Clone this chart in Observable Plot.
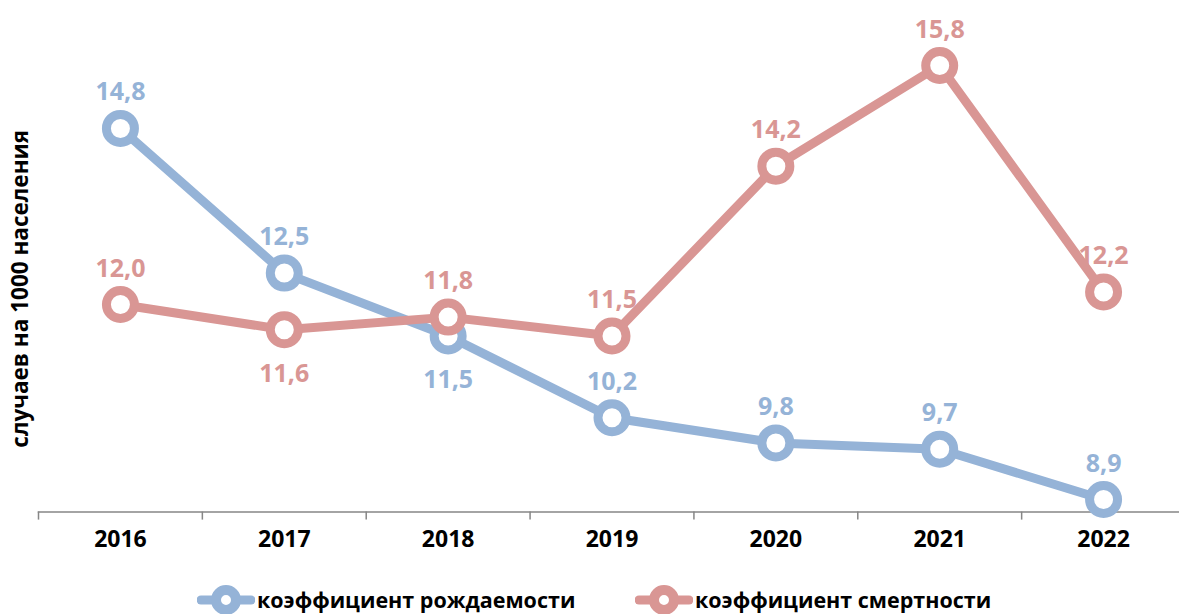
<!DOCTYPE html>
<html>
<head>
<meta charset="utf-8">
<script src="https://cdn.jsdelivr.net/npm/d3@7"></script>
<script src="https://cdn.jsdelivr.net/npm/@observablehq/plot@0.6"></script>
<style>
  html, body { margin: 0; padding: 0; background: #fff; overflow: hidden; }
  #wrap { width: 1179px; height: 614px; position: relative; font-family: "Open Sans", sans-serif; }
  #legend { position: relative; height: 30px; width: 1179px; }
  .item { position: absolute; top: 0; height: 30px; display: flex; align-items: center; font-weight: 700; font-size: 21.5px; line-height: 26px; color: #000; white-space: nowrap; }
  .item svg { display: block; margin-right: 2px; }
</style>
</head>
<body>
<div id="wrap"></div>
<script>
const years = [2016, 2017, 2018, 2019, 2020, 2021, 2022];
const birthRate = [14.8, 12.5, 11.5, 10.2, 9.8, 9.7, 8.9];
const deathRate = [12.0, 11.6, 11.8, 11.5, 14.2, 15.8, 12.2];
const seriesNames = ["коэффициент рождаемости", "коэффициент смертности"];
const seriesColors = ["#95B3D7", "#D99694"];
const yLabel = "случаев на 1000 населения";
// years whose value label sits below the marker, per series
const labelsBelow = [[2018], [2017]];

const fmt = v => d3.format(".1f")(v).replace(".", ",");
const series = [birthRate, deathRate].map((vals, s) =>
  years.map((year, i) => ({ year, value: vals[i], s })));

const yDomain = [8.7, 16.5];
const height = 582;
const boundaries = years.map(y => y - 0.5).concat([years[years.length - 1] + 0.5]);

const marks = [
  Plot.frame({ anchor: "bottom", stroke: "#868686", strokeWidth: 1.5 }),
  Plot.axisX({ ticks: boundaries, tickSize: 8, tickFormat: () => "", label: null, stroke: "#868686", strokeWidth: 1.5 }),
  Plot.text(years, { x: d => d, frameAnchor: "bottom", dy: 35, text: d => String(d), fontSize: 23, fontWeight: 700, fill: "#000" }),
  Plot.text([yLabel], { frameAnchor: "left", textAnchor: "middle", dx: -18, dy: 22, rotate: -90, text: d => d, fontSize: 22.5, fontWeight: 700, fill: "#000" })
];

series.forEach((rows, s) => {
  const col = seriesColors[s];
  const below = rows.filter(d => labelsBelow[s].includes(d.year));
  const above = rows.filter(d => !labelsBelow[s].includes(d.year));
  marks.push(
    Plot.line(rows, { x: "year", y: "value", stroke: col, strokeWidth: 9, strokeLinejoin: "round" }),
    Plot.dot(rows, { x: "year", y: "value", r: 14, fill: "white", stroke: col, strokeWidth: 9 }),
    Plot.text(above, { x: "year", y: "value", text: d => fmt(d.value), dy: -36, fill: col, fontSize: 25, fontWeight: 700 }),
    Plot.text(below, { x: "year", y: "value", text: d => fmt(d.value), dy: 44, fill: col, fontSize: 25, fontWeight: 700 })
  );
});

const chart = Plot.plot({
  width: 1179,
  height,
  marginLeft: 38,
  marginRight: -6,
  marginTop: 21,
  marginBottom: height - 511.6,
  style: { fontFamily: "Open Sans, sans-serif", background: "white", overflow: "visible" },
  x: { domain: [years[0] - 0.5, years[years.length - 1] + 0.5], axis: null },
  y: { domain: yDomain, axis: null },
  marks
});

const wrap = document.getElementById("wrap");
wrap.appendChild(chart);

const legend = document.createElement("div");
legend.id = "legend";
legend.style.marginTop = "3px";
const lefts = [197, 635];
seriesNames.forEach((name, s) => {
  const item = document.createElement("div");
  item.className = "item";
  item.style.left = lefts[s] + "px";
  const col = seriesColors[s];
  item.innerHTML = `<svg width="58" height="30" viewBox="0 0 58 30">
    <line x1="4" y1="15" x2="54" y2="15" stroke="${col}" stroke-width="9" stroke-linecap="round"/>
    <circle cx="29" cy="15" r="10" fill="white" stroke="${col}" stroke-width="10"/>
  </svg><span>${name}</span>`;
  legend.appendChild(item);
});
wrap.appendChild(legend);
</script>
</body>
</html>
